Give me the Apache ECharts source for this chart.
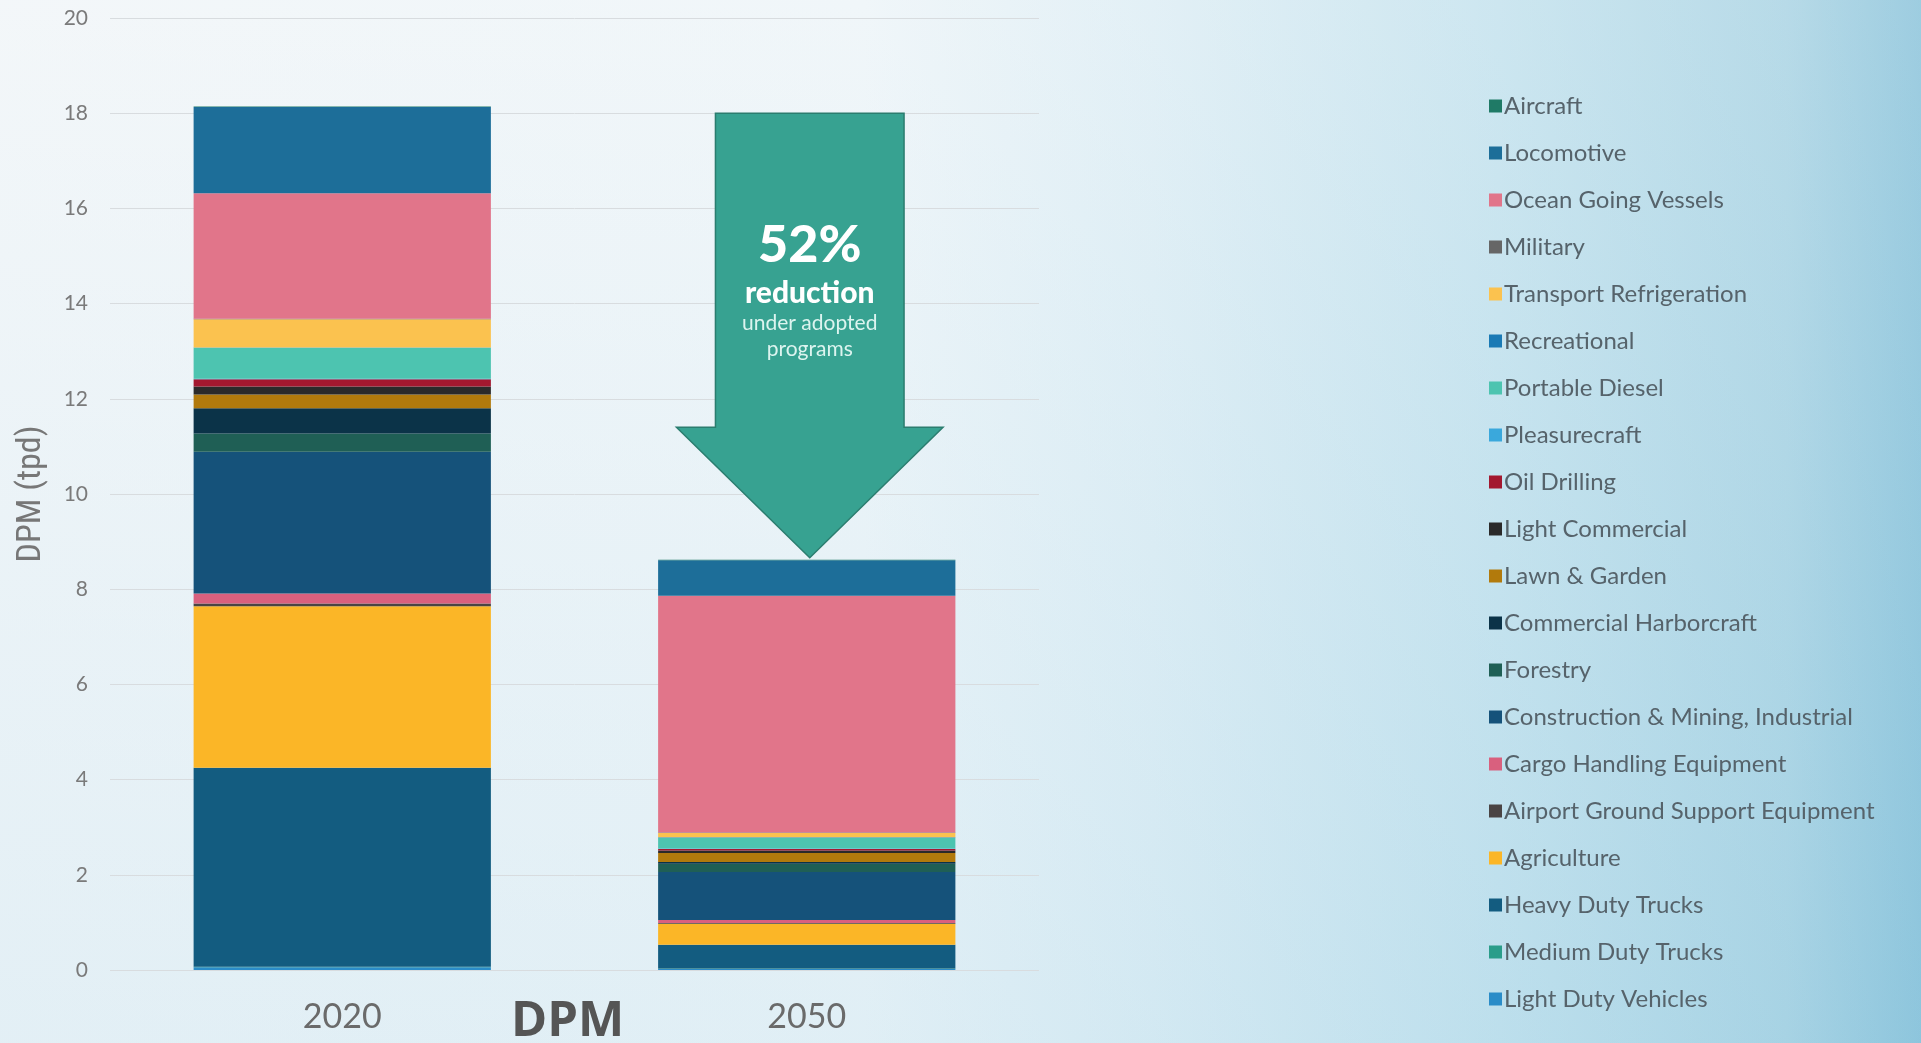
<!DOCTYPE html>
<html>
<head>
<meta charset="utf-8">
<title>DPM</title>
<script src="https://cdn.jsdelivr.net/npm/echarts@6/dist/echarts.min.js"></script>
<style>
	html,
	body {
		margin: 0;
		padding: 0;
		width: 1921px;
		height: 1043px;
		overflow: hidden;
	}
	body {
		background:
			linear-gradient(180deg, rgba(255, 255, 255, 0.25) 0%, rgba(190, 225, 240, 0.25) 100%),
			linear-gradient(90deg, #eff4f7 0%, #ebf3f7 45%, #d9ebf3 60%, #bcdeeb 78%, #9fcee0 93%, #7dbcd6 100%);
	}
	#main {
		width: 1921px;
		height: 1043px;
	}
</style>
</head>
<body>
<div id="main"></div>
<script>
// 年份
var years = ["2020", "2050"];

// 堆叠顺序：从下往上
var sources = [
	"Light Duty Vehicles",
	"Medium Duty Trucks",
	"Heavy Duty Trucks",
	"Agriculture",
	"Airport Ground Support Equipment",
	"Cargo Handling Equipment",
	"Construction & Mining, Industrial",
	"Forestry",
	"Commercial Harborcraft",
	"Lawn & Garden",
	"Light Commercial",
	"Oil Drilling",
	"Pleasurecraft",
	"Portable Diesel",
	"Recreational",
	"Transport Refrigeration",
	"Military",
	"Ocean Going Vessels",
	"Locomotive",
	"Aircraft",
];

var colors = [
	"#2a8cc8",
	"#2a9d8a",
	"#135c80",
	"#fbb627",
	"#4a4444",
	"#d9607e",
	"#15527a",
	"#1f5f55",
	"#0b3348",
	"#b27a0c",
	"#2b2a2a",
	"#a3182f",
	"#3aa8dc",
	"#4dc4b0",
	"#1a7ab5",
	"#fbc24f",
	"#666666",
	"#e1758a",
	"#1d6e99",
	"#1f7a66",
];

// tpd，每个来源 [2020, 2050]
var values2020 = [0.06, 0.01, 4.18, 3.39, 0.06, 0.21, 2.98, 0.38, 0.53, 0.29, 0.17, 0.15, 0.01, 0.65, 0.01, 0.59, 0.01, 2.64, 1.81, 0.01];
var values2050 = [0.02, 0.01, 0.5, 0.44, 0.02, 0.06, 1.01, 0.17, 0.04, 0.19, 0.05, 0.03, 0.01, 0.23, 0.01, 0.09, 0.01, 4.97, 0.75, 0.01];

var yTicks = [0, 2, 4, 6, 8, 10, 12, 14, 16, 18, 20];

// 箭头（数据坐标）
var arrowTop = 18;
var arrowShoulder = 11.4;

function sum(arr) {
	return arr.reduce(function (a, b) {
		return a + b;
	}, 0);
}
var total2020 = sum(values2020);
var total2050 = sum(values2050);
var reduction = Math.round((1 - total2050 / total2020) * 100);

var myChart = echarts.init(document.getElementById("main"));

var series = sources.map(function (name, i) {
	return {
		name: name,
		type: "bar",
		stack: "dpm",
		barWidth: "64%",
		data: [values2020[i], values2050[i]],
		itemStyle: {
			color: colors[i],
		},
		emphasis: { disabled: true },
	};
});

series.push({
	name: "arrow",
	type: "custom",
	silent: true,
	z: 10,
	data: [[1, arrowTop, arrowShoulder, total2050]],
	renderItem: function (params, api) {
		var band = api.size([1, 0])[0];
		var top = api.coord([api.value(0), api.value(1)]);
		var shoulder = api.coord([api.value(0), api.value(2)]);
		var tip = api.coord([api.value(0), api.value(3)]);
		var cx = top[0] + 3;
		var bw = band * 0.203;
		var ww = band * 0.287;
		return {
			type: "group",
			children: [
				{
					type: "polygon",
					shape: {
						points: [
							[cx - bw, top[1]],
							[cx + bw, top[1]],
							[cx + bw, shoulder[1]],
							[cx + ww, shoulder[1]],
							[cx, tip[1] - 2],
							[cx - ww, shoulder[1]],
							[cx - bw, shoulder[1]],
						],
					},
					style: {
						fill: "#37a291",
						stroke: "#2b7d6f",
						lineWidth: 1.5,
					},
				},
				{
					type: "text",
					x: cx,
					y: top[1] + 132,
					style: {
						text: reduction + "%",
						fill: "#ffffff",
						font: "900 52px Lato, 'Noto Sans', sans-serif",
						align: "center",
						verticalAlign: "middle",
					},
				},
				{
					type: "text",
					x: cx,
					y: top[1] + 180,
					style: {
						text: "reduction",
						fill: "#ffffff",
						font: "900 30px Lato, 'Noto Sans', sans-serif",
						align: "center",
						verticalAlign: "middle",
					},
				},
				{
					type: "text",
					x: cx,
					y: top[1] + 210,
					style: {
						text: "under adopted",
						fill: "#dcf4ef",
						font: "21px Lato, 'Noto Sans', sans-serif",
						align: "center",
						verticalAlign: "middle",
					},
				},
				{
					type: "text",
					x: cx,
					y: top[1] + 236,
					style: {
						text: "programs",
						fill: "#dcf4ef",
						font: "21px Lato, 'Noto Sans', sans-serif",
						align: "center",
						verticalAlign: "middle",
					},
				},
			],
		};
	},
});

var option = {
	animation: false,
	backgroundColor: "transparent",
	textStyle: {
		fontFamily: "Lato, 'Noto Sans', sans-serif",
	},
	grid: {
		left: 110,
		right: 882,
		top: 18,
		bottom: 73,
		containLabel: false,
		outerBoundsMode: "none",
	},
	legend: {
		orient: "vertical",
		left: 1484,
		top: 88,
		data: sources.slice().reverse(),
		icon: "rect",
		itemWidth: 13,
		itemHeight: 13,
		itemGap: 21,
		selectedMode: false,
		textStyle: {
			fontSize: 24,
			lineHeight: 26,
			color: "#56636b",
			padding: [0, 0, 0, -3],
		},
	},
	xAxis: {
		type: "category",
		data: years,
		name: "DPM",
		nameLocation: "middle",
		nameGap: 28,
		nameMoveOverlap: false,
		nameTextStyle: {
			fontSize: 49,
			fontWeight: "bold",
			color: "#555555",
			fontFamily: "'Open Sans', Lato, sans-serif",
			padding: [0, 14, 0, 0],
		},
		axisLine: { show: false },
		axisTick: { show: false },
		axisLabel: {
			fontSize: 34,
			color: "#6a6a6a",
			margin: 30,
		},
	},
	yAxis: {
		type: "value",
		min: yTicks[0],
		max: yTicks[yTicks.length - 1],
		interval: 2,
		name: "DPM (tpd)",
		nameLocation: "middle",
		nameGap: 62,
		nameMoveOverlap: false,
		nameTextStyle: {
			fontSize: 34,
			color: "#777777",
			fontFamily: "'Liberation Sans Narrow', 'Roboto Condensed', Lato, sans-serif",
		},
		axisLine: { show: false },
		axisTick: { show: false },
		axisLabel: {
			fontSize: 21,
			color: "#7a7a7a",
			margin: 22,
		},
		splitLine: {
			lineStyle: {
				color: "#d8dcdf",
				width: 1,
			},
		},
	},
	series: series,
};

myChart.setOption(option);
window.addEventListener("resize", function () {
	myChart.resize();
});
</script>
</body>
</html>
